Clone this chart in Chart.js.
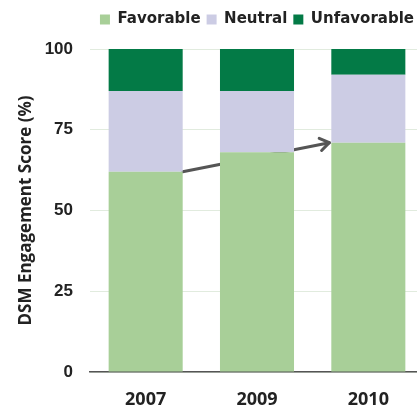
<!DOCTYPE html>
<html>
<head>
<meta charset="utf-8">
<script src="https://cdn.jsdelivr.net/npm/chart.js@4/dist/chart.umd.min.js"></script>
<style>
  html, body { margin: 0; padding: 0; background: #fff; overflow: hidden; }
  #wrap { width: 417px; height: 410px; overflow: hidden; }
  #box { width: 432px; height: 410px; }
</style>
</head>
<body>
<div id="wrap"><div id="box"><canvas id="c"></canvas></div></div>
<script>
const years = ['2007', '2009', '2010'];
const favorable = [62, 68, 71];
const neutral = [25, 19, 21];
const unfavorable = [13, 13, 8];
const yTicks = [0, 25, 50, 75, 100];

const LEGEND_FONT = '"DejaVu Sans", Verdana, sans-serif';
const TICK_FONT = '"Liberation Sans", Arial, sans-serif';
const LABEL_FONT = '"Open Sans", "Noto Sans", sans-serif';

// Extra space under the legend row before the plot starts,
// and a small shift of the legend row to the left.
const legendGap = {
  id: 'legendGap',
  afterInit(chart) {
    const lg = chart.legend;
    if (!lg) return;
    const fit = lg.fit.bind(lg);
    lg.fit = function () { fit(); this.height += 12; };
    const draw = lg.draw.bind(lg);
    lg.draw = function () {
      const ctx = this.ctx;
      ctx.save();
      ctx.translate(-4, 0);
      draw();
      ctx.restore();
    };
  }
};

// Trend arrow from the top of the first "Favorable" bar to the last one,
// drawn beneath the bars so the middle bar hides its centre.
const trendArrow = {
  id: 'trendArrow',
  beforeDatasetsDraw(chart) {
    const bars = chart.getDatasetMeta(0).data;
    const a = bars[0], b = bars[bars.length - 1];
    const x1 = a.x + a.width / 2, y1 = a.y;
    const x2 = b.x - b.width / 2 - 2, y2 = b.y;
    const ang = Math.atan2(y2 - y1, x2 - x1);
    const ctx = chart.ctx;
    ctx.save();
    ctx.strokeStyle = '#555555';
    ctx.lineWidth = 3;
    ctx.lineCap = 'round';
    ctx.lineJoin = 'round';
    ctx.beginPath();
    ctx.moveTo(x1, y1);
    ctx.lineTo(x2, y2);
    ctx.stroke();
    const h = 11;
    ctx.beginPath();
    ctx.moveTo(x2 - h * Math.cos(ang - 0.6), y2 - h * Math.sin(ang - 0.6));
    ctx.lineTo(x2, y2);
    ctx.lineTo(x2 - h * Math.cos(ang + 0.6), y2 - h * Math.sin(ang + 0.6));
    ctx.stroke();
    ctx.restore();
  }
};

new Chart(document.getElementById('c'), {
  type: 'bar',
  data: {
    labels: years,
    datasets: [
      { label: 'Favorable', data: favorable, backgroundColor: '#a8cf98' },
      { label: 'Neutral', data: neutral, backgroundColor: '#ccccE4' },
      { label: 'Unfavorable', data: unfavorable, backgroundColor: '#037a46' }
    ]
  },
  options: {
    responsive: true,
    maintainAspectRatio: false,
    animation: false,
    layout: { padding: { right: 8, top: 6, left: 0, bottom: 0 } },
    datasets: { bar: { categoryPercentage: 0.665, barPercentage: 1.0, borderWidth: 0 } },
    plugins: {
      tooltip: { enabled: false },
      legend: {
        position: 'top',
        align: 'end',
        labels: {
          boxWidth: 10, boxHeight: 10, padding: 6,
          color: '#222',
          font: { family: LEGEND_FONT, size: 15, weight: 'bold' }
        }
      }
    },
    scales: {
      x: {
        stacked: true,
        grid: { display: false, drawTicks: false },
        border: { display: true, color: '#555555', width: 1.5 },
        ticks: { color: '#222', padding: 17, font: { family: LABEL_FONT, size: 18, weight: 'bold' } },
        afterFit(s) { s.height = 38; }
      },
      y: {
        stacked: true,
        min: 0, max: 100,
        afterBuildTicks(s) { s.ticks = yTicks.map(v => ({ value: v })); },
        grid: { color: '#e1ebde', drawTicks: false, lineWidth: 1 },
        border: { display: false },
        ticks: { color: '#222', padding: 17, font: { family: TICK_FONT, size: 17, weight: 'bold' } },
        title: {
          display: true,
          text: 'DSM Engagement Score (%)',
          color: '#222',
          font: { family: LABEL_FONT, size: 17, weight: 'bold' },
          padding: { top: 16, bottom: 0 }
        },
        afterFit(s) { s.width = 90; }
      }
    }
  },
  plugins: [legendGap, trendArrow]
});
</script>
</body>
</html>
